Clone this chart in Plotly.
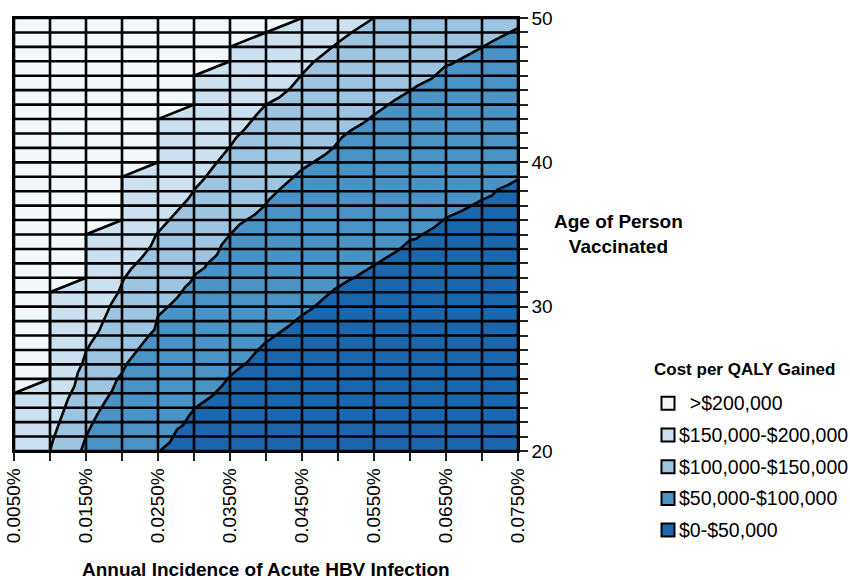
import plotly.graph_objects as go

# ------------------------------------------------------------------ data
incidence = [0.005, 0.010, 0.015, 0.020, 0.025, 0.030, 0.035, 0.040,
             0.045, 0.050, 0.055, 0.060, 0.065, 0.070, 0.075]   # % per year
ages = list(range(20, 51))
x_tick_vals = [0.005, 0.015, 0.025, 0.035, 0.045, 0.055, 0.065, 0.075]
x_tick_text = ["0.0050%", "0.0150%", "0.0250%", "0.0350%",
               "0.0450%", "0.0550%", "0.0650%", "0.0750%"]
y_tick_vals = [20, 30, 40, 50]

categories = ["  >$200,000", "$150,000-$200,000", "$100,000-$150,000",
              "$50,000-$100,000", "$0-$50,000"]
colors = ["#F3F8FB", "#CBE1EF", "#9DC4E0", "#4A93C7", "#1A67AE"]

# boundary between >$200,000 and $150,000-$200,000 (incidence %, age)
b200_inc = [0.0050, 0.0100, 0.0100, 0.0150, 0.0150, 0.0200, 0.0200, 0.0250,
            0.0250, 0.0300, 0.0300, 0.0350, 0.0350, 0.0400, 0.0450]
b200_age = [24, 25, 31, 32, 35, 36, 39, 40, 43, 44, 46, 47, 48, 49, 50]

# boundary between $150,000-$200,000 and $100,000-$150,000
b150_inc = [0.0100, 0.01045, 0.0111, 0.0118, 0.0125, 0.0134, 0.01385, 0.0145,
            0.0150, 0.0157, 0.0168, 0.0175, 0.0185, 0.0195, 0.02025, 0.02125,
            0.02275, 0.0240, 0.02475, 0.0262, 0.02805, 0.02925, 0.0302, 0.0315,
            0.03255, 0.03375, 0.0350, 0.03585, 0.03705, 0.0387, 0.0400, 0.04185,
            0.0433, 0.0450, 0.0465, 0.0500, 0.0522, 0.0550]
b150_age = [20, 20.8, 21.7, 22.6, 23.6, 24.5, 25.4, 26.1, 26.9, 27.5,
            28.3, 29.1, 30.2, 31.0, 31.9, 32.6, 33.4, 34.2, 35.0, 35.8,
            36.8, 37.5, 38.2, 38.9, 39.6, 40.3, 41.1, 41.7, 42.3, 43.3,
            44.0, 44.5, 45.1, 46.1, 46.9, 48.3, 49.1, 50]

# boundary between $100,000-$150,000 and $50,000-$100,000
b100_inc = [0.0143, 0.0145, 0.0150, 0.0157, 0.0166, 0.01775, 0.01865, 0.01935,
            0.0200, 0.02075, 0.0220, 0.02275, 0.02375, 0.0245, 0.0250, 0.0262,
            0.02765, 0.02885, 0.0295, 0.0302, 0.0315, 0.0317, 0.0332, 0.03385,
            0.0350, 0.03635, 0.0373, 0.0385, 0.03975, 0.0404, 0.04185, 0.0440,
            0.0450, 0.04825, 0.04935, 0.0505, 0.05175, 0.0536, 0.0550, 0.05645,
            0.05785, 0.0600, 0.0610, 0.0630, 0.0650, 0.0657, 0.0680, 0.0700,
            0.0715, 0.0735, 0.0750]
b100_age = [20, 20.3, 21.0, 21.7, 22.55, 23.5, 24.2, 25.0,
            25.4, 26.1, 26.9, 27.4, 28.0, 28.4, 29.35, 29.9,
            30.6, 31.4, 31.7, 32.25, 32.7, 32.9, 33.6, 34.3,
            35.0, 35.7, 36.0, 36.4, 36.96, 37.4, 38.1, 39.05,
            39.5, 40.55, 41.0, 41.7, 42.2, 42.75, 43.3, 43.8,
            44.3, 44.95, 45.3, 45.8, 46.7, 46.8, 47.4, 47.97,
            48.4, 48.9, 49.3]

# boundary between $50,000-$100,000 and $0-$50,000
b50_inc = [0.02525, 0.02665, 0.02765, 0.0285, 0.02925, 0.0300, 0.03075, 0.0325,
           0.03385, 0.0350, 0.0361, 0.0375, 0.0385, 0.0399, 0.0416, 0.0433,
           0.0450, 0.0465, 0.04785, 0.0495, 0.05145, 0.0522, 0.0545, 0.0565,
           0.05835, 0.0600, 0.0609, 0.0614, 0.0634, 0.0650, 0.06705, 0.0693,
           0.0700, 0.0714, 0.0721, 0.0735, 0.0750]
b50_age = [20, 20.6, 21.5, 21.8, 22.4, 22.9, 23.2, 23.8,
           24.5, 25.2, 25.65, 26.2, 26.8, 27.5, 28.1, 28.7,
           29.4, 29.9, 30.5, 31.2, 31.8, 32.0, 32.7, 33.3,
           33.9, 34.6, 34.7, 34.9, 35.5, 36.15, 36.6, 37.2,
           37.4, 37.7, 38.1, 38.4, 38.8]

# ------------------------------------------------------------------ layout constants
W, H = 850, 580
ML, MR, MT, MB = 14, 332, 18, 129
PW, PH = W - ML - MR, H - MT - MB
FONT = "Liberation Sans, Arial, Helvetica, sans-serif"
BOLD_FONT = dict(family=FONT, size=19, color="black")


def px_x(px):
    return (px - ML) / PW


def px_y(py):
    return (H - MB - py) / PH


x_min, x_max = incidence[0], incidence[-1]
y_min, y_max = ages[0], ages[-1]

fig = go.Figure()


def region_above(b_inc, b_age):
    """Polygon of the area above/left of a boundary line."""
    xs = list(b_inc) + [b_inc[-1], x_min, x_min, b_inc[0]]
    ys = list(b_age) + [y_max, y_max, y_min, y_min]
    return xs, ys


bounds = [(b50_inc, b50_age), (b100_inc, b100_age),
          (b150_inc, b150_age), (b200_inc, b200_age)]
fill_colors = [colors[3], colors[2], colors[1], colors[0]]
for (bi, ba), col in zip(bounds, fill_colors):
    xs, ys = region_above(bi, ba)
    fig.add_trace(go.Scatter(x=xs, y=ys, mode="lines", fill="toself",
                             fillcolor=col, line=dict(width=0),
                             hoverinfo="skip", showlegend=False))

# grid of cells
gx, gy = [], []
for x in incidence:
    gx += [x, x, None]
    gy += [y_min, y_max, None]
for a in ages:
    gx += [x_min, x_max, None]
    gy += [a, a, None]
fig.add_trace(go.Scatter(x=gx, y=gy, mode="lines",
                         line=dict(color="black", width=2.6),
                         hoverinfo="skip", showlegend=False))

# contour boundary lines
for bi, ba in bounds:
    fig.add_trace(go.Scatter(x=bi, y=ba, mode="lines",
                             line=dict(color="black", width=2.6),
                             hoverinfo="skip", showlegend=False))

tick_style = dict(ticks="outside", ticklen=8, tickwidth=1.5, tickcolor="#222")

fig.update_xaxes(range=[x_min, x_max], tickmode="array", tickvals=x_tick_vals,
                 ticktext=x_tick_text, tickangle=-90, automargin=False,
                 minor=dict(tickmode="array", tickvals=incidence, **tick_style),
                 showgrid=False, zeroline=False, showline=True,
                 linecolor="black", linewidth=1.5, mirror=True,
                 tickfont=dict(family=FONT, size=19, color="black"),
                 **tick_style)
fig.update_yaxes(range=[y_min, y_max], side="right", tickmode="array",
                 tickvals=y_tick_vals, automargin=False,
                 minor=dict(tickmode="array", tickvals=ages, **tick_style),
                 showgrid=False, zeroline=False, showline=True,
                 linecolor="black", linewidth=1.5, mirror=True,
                 tickfont=dict(family=FONT, size=19, color="black"),
                 **tick_style)

annotations = [
    dict(text="<b>Annual Incidence of Acute HBV Infection</b>", xref="paper",
         yref="paper", x=0.5, y=px_y(569), xanchor="center", yanchor="middle",
         showarrow=False, font=BOLD_FONT),
    dict(text="<b>Age of Person<br>Vaccinated</b>", xref="paper", yref="paper",
         x=px_x(618), y=px_y(234), xanchor="center", yanchor="middle",
         showarrow=False, font=BOLD_FONT),
    dict(text="<b>Cost per QALY Gained</b>", xref="paper", yref="paper",
         x=px_x(652), y=px_y(369), xanchor="left", yanchor="middle",
         showarrow=False, font=dict(family=FONT, size=17, color="black")),
]
shapes = []
for i, (lab, col) in enumerate(zip(categories, colors)):
    yc = 403.3 + i * 31.7
    shapes.append(dict(type="rect", xref="paper", yref="paper",
                       x0=px_x(661.5), x1=px_x(674.5),
                       y0=px_y(yc + 6.5), y1=px_y(yc - 6.5),
                       fillcolor=col, line=dict(color="black", width=2)))
    annotations.append(dict(text=lab.replace(" ", "\u00a0"), xref="paper",
                            yref="paper", x=px_x(677), y=px_y(yc),
                            xanchor="left", yanchor="middle", showarrow=False,
                            font=dict(family=FONT, size=19.5, color="black")))

fig.update_layout(width=W, height=H,
                  margin=dict(l=ML, r=MR, t=MT, b=MB, pad=0, autoexpand=False),
                  paper_bgcolor="white", plot_bgcolor=colors[4],
                  showlegend=False, annotations=annotations, shapes=shapes,
                  font=dict(family=FONT, size=19, color="black"))

fig.write_html("out.html", config={"displayModeBar": False},
               post_script="document.body.style.margin='0';")
